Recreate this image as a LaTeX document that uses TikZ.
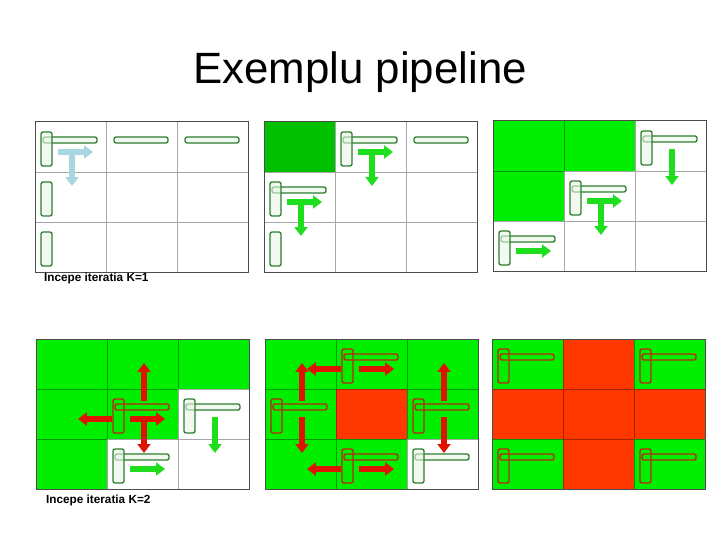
\documentclass[tikz,border=0pt]{standalone}
\usepackage{fontspec}
\setmainfont{Liberation Sans}
\usetikzlibrary{arrows.meta}
\definecolor{bardark}{RGB}{45,125,45}
\definecolor{barred}{RGB}{185,40,10}
\definecolor{barfill}{RGB}{232,246,232}
\definecolor{lightblue}{RGB}{168,214,224}
\definecolor{deepgreen}{RGB}{0,192,0}
\definecolor{brightgreen}{RGB}{0,238,0}
\definecolor{arrowgreen}{RGB}{30,222,30}
\definecolor{hotred}{RGB}{255,55,0}
\definecolor{arrowred}{RGB}{222,20,0}

\tikzset{
  gridline/.style={draw=black, draw opacity=0.35, line width=0.8pt},
  frame/.style={draw=black!70, line width=1pt},
  greenbar/.style={draw=bardark, fill=barfill, fill opacity=0.6, rounded corners=2pt, line width=1.3pt},
  redbar/.style={draw=barred, rounded corners=2pt, line width=1.4pt},
  fatarrow/.style={draw=#1, line width=5.5pt, -{Triangle[length=9pt,width=13pt]}},
  panellabel/.style={anchor=base west, inner sep=0pt, font=\bfseries\fontsize{11.8}{14}\selectfont},
}

% cell helpers: #1 = column, #2 = row
\newcommand\cellfill[3]{\fill[#3] ({#1*71},{#2*50}) rectangle ++(71,50);}
\newcommand\rowbar[3]{\draw[#3] ({#1*71+6},{#2*50+10}) rectangle ++(11,34);}
\newcommand\colbar[3]{\draw[#3] ({#1*71+8},{#2*50+15}) rectangle ++(54,6);}
\newcommand\bothbars[3]{\colbar{#1}{#2}{#3}\rowbar{#1}{#2}{#3}}
\newcommand\arR[3]{\draw[fatarrow=#3] ({#1*71+23},{#2*50+30}) -- ++(35,0);}
\newcommand\arL[3]{\draw[fatarrow=#3] ({#1*71+5},{#2*50+30}) -- ++(-34,0);}
\newcommand\arU[3]{\draw[fatarrow=#3] ({#1*71+37},{#2*50+12}) -- ++(0,-38);}
\newcommand\arD[3]{\draw[fatarrow=#3] ({#1*71+37},{#2*50+28}) -- ++(0,36);}
\newcommand\panelgrid{%
  \draw[gridline] (71,0) -- (71,150) (142,0) -- (142,150) (0,50) -- (213,50) (0,100) -- (213,100);
  \draw[frame] (0,0) rectangle (213,150);}

\begin{document}
\begin{tikzpicture}[x=1bp, y=-1bp]
  \useasboundingbox[fill=white] (0,0) rectangle (720,540);

  \node[anchor=base, font=\fontsize{44}{50}\selectfont] (title) at (360,84) {Exemplu pipeline};

  % K=1, step 1
  \begin{scope}[shift={(35,122)}]
    \panelgrid
    \bothbars{0}{0}{greenbar}
    \colbar{1}{0}{greenbar} \colbar{2}{0}{greenbar}
    \rowbar{0}{1}{greenbar} \rowbar{0}{2}{greenbar}
    \arR{0}{0}{lightblue} \arD{0}{0}{lightblue}
  \end{scope}
  \node[panellabel] (startone) at (44,282) {Incepe iteratia K=1};

  % K=1, step 2
  \begin{scope}[shift={(264,122)}]
    \cellfill{0}{0}{deepgreen}
    \panelgrid
    \bothbars{1}{0}{greenbar} \bothbars{0}{1}{greenbar}
    \colbar{2}{0}{greenbar} \rowbar{0}{2}{greenbar}
    \arR{1}{0}{arrowgreen} \arD{1}{0}{arrowgreen}
    \arR{0}{1}{arrowgreen} \arD{0}{1}{arrowgreen}
  \end{scope}

  % K=1, step 3
  \begin{scope}[shift={(493,121)}]
    \cellfill{0}{0}{brightgreen} \cellfill{1}{0}{brightgreen} \cellfill{0}{1}{brightgreen}
    \panelgrid
    \bothbars{2}{0}{greenbar} \bothbars{1}{1}{greenbar} \bothbars{0}{2}{greenbar}
    \arD{2}{0}{arrowgreen}
    \arR{1}{1}{arrowgreen} \arD{1}{1}{arrowgreen}
    \arR{0}{2}{arrowgreen}
  \end{scope}

  % K=2, step 1
  \begin{scope}[shift={(36,339)}]
    \foreach \i/\j in {0/0,1/0,2/0,0/1,1/1,0/2}
      {\cellfill{\i}{\j}{brightgreen}}
    \panelgrid
    \bothbars{1}{1}{redbar}
    \bothbars{2}{1}{greenbar} \bothbars{1}{2}{greenbar}
    \arU{1}{1}{arrowred} \arD{1}{1}{arrowred}
    \arL{1}{1}{arrowred} \arR{1}{1}{arrowred}
    \arD{2}{1}{arrowgreen} \arR{1}{2}{arrowgreen}
  \end{scope}
  \node[panellabel] (starttwo) at (46,503) {Incepe iteratia K=2};

  % K=2, step 2
  \begin{scope}[shift={(265,339)}]
    \foreach \i/\j in {0/0,1/0,2/0,0/1,2/1,0/2,1/2}
      {\cellfill{\i}{\j}{brightgreen}}
    \cellfill{1}{1}{hotred}
    \panelgrid
    \foreach \i/\j in {1/0,0/1,2/1,1/2}
      {\bothbars{\i}{\j}{redbar}}
    \bothbars{2}{2}{greenbar}
    \arL{1}{0}{arrowred} \arR{1}{0}{arrowred}
    \arU{0}{1}{arrowred} \arD{0}{1}{arrowred}
    \arU{2}{1}{arrowred} \arD{2}{1}{arrowred}
    \arL{1}{2}{arrowred} \arR{1}{2}{arrowred}
  \end{scope}

  % K=2, step 3
  \begin{scope}[shift={(492,339)}]
    \foreach \i/\j in {0/0,2/0,0/2,2/2}
      {\cellfill{\i}{\j}{brightgreen}}
    \foreach \i/\j in {1/0,0/1,1/1,2/1,1/2}
      {\cellfill{\i}{\j}{hotred}}
    \panelgrid
    \foreach \i/\j in {0/0,2/0,0/2,2/2}
      {\bothbars{\i}{\j}{redbar}}
  \end{scope}
\end{tikzpicture}
\end{document}
